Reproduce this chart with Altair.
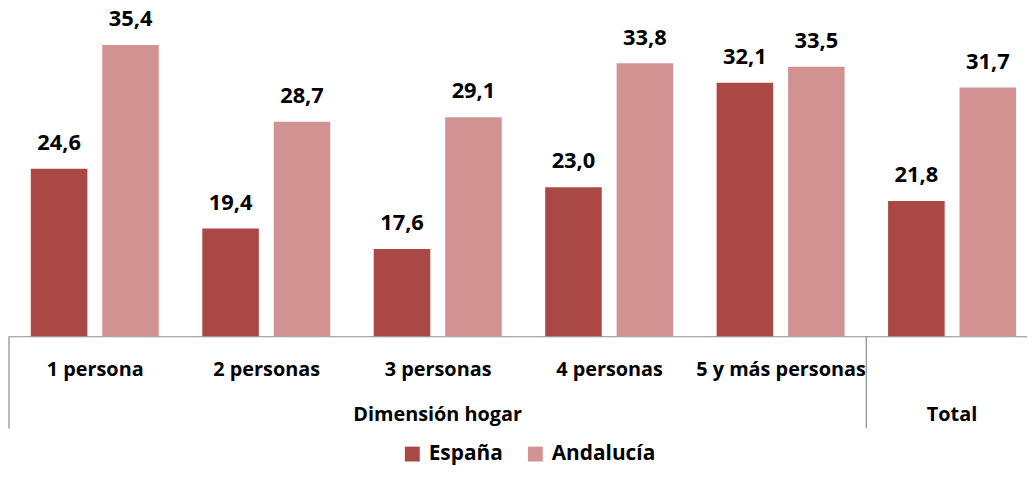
import altair as alt
import pandas as pd

categories = ["1 persona", "2 personas", "3 personas", "4 personas", "5 y más personas", "Total"]
espana = [24.6, 19.4, 17.6, 23.0, 32.1, 21.8]
andalucia = [35.4, 28.7, 29.1, 33.8, 33.5, 31.7]
series = ["España", "Andalucía"]
colors = ["#AA4846", "#D39292"]
group_labels = ["Dimensión hogar", "Total"]

# layout: each category occupies one unit; the plot shows 5.9375 units so the
# last group runs past the right edge, as in the reference
VISIBLE_UNITS = 5.9375
BAR_SPAN = {"España": (0.1273, 0.4572), "Andalucía": (0.5440, 0.8738)}

rows = []
for i, (c, e, a) in enumerate(zip(categories, espana, andalucia)):
    for s, v in (("España", e), ("Andalucía", a)):
        x0, x1 = BAR_SPAN[s]
        rows.append({"cat": c, "serie": s, "valor": v,
                     "x0": i + x0, "x1": i + x1, "xc": i + (x0 + x1) / 2})
df = pd.DataFrame(rows)
df["etiqueta"] = df["valor"].map(lambda v: f"{v:.1f}".replace(".", ","))

FONT = "Open Sans"
GRAY = "#8c8c8c"

xscale = alt.Scale(domain=[0, VISIBLE_UNITS], nice=False, zero=False)
yscale = alt.Scale(domain=[10, 38.3], zero=False, nice=False)

cat_js = "[" + ",".join("'" + c + "'" for c in categories) + "]"
x_axis = alt.Axis(title=None, labelAngle=0, ticks=False, domainColor=GRAY, domainWidth=1.2,
                  values=[i + 0.5 for i in range(len(categories) - 1)],
                  labelExpr=cat_js + "[floor(datum.value)]",
                  labelFont=FONT, labelFontSize=20, labelFontWeight="bold", labelColor="black",
                  labelPadding=34, labelBaseline="middle", labelOverlap=False, labelLimit=400,
                  labelFlush=False, grid=False)

base = alt.Chart(df)

bars = base.mark_bar().encode(
    x=alt.X("x0:Q", scale=xscale, axis=x_axis),
    x2="x1:Q",
    y=alt.Y("valor:Q", scale=yscale, axis=None),
    y2=alt.datum(10),
    color=alt.Color("serie:N", scale=alt.Scale(domain=series, range=colors), sort=series,
                    legend=alt.Legend(title=None, orient="none", legendX=396, legendY=435,
                                      direction="horizontal", symbolType="square", symbolSize=225,
                                      symbolStrokeWidth=0, labelFont=FONT, labelFontSize=21,
                                      labelFontWeight="bold", labelColor="black", labelOffset=6,
                                      columnPadding=22, padding=0)),
)

values = base.mark_text(dy=-26, font=FONT, fontSize=22, fontWeight="bold", color="black",
                        baseline="middle").encode(
    x=alt.X("xc:Q", scale=xscale, axis=x_axis),
    y=alt.Y("valor:Q", scale=yscale, axis=None),
    text="etiqueta:N",
)

sep_df = pd.DataFrame({"pos": [0, len(categories) - 1]})
seps = alt.Chart(sep_df).mark_rule(color=GRAY, strokeWidth=1.2).encode(
    x=alt.X("pos:Q", scale=xscale, axis=x_axis),
    y=alt.value(327),
    y2=alt.value(420),
)

grp_df = pd.DataFrame({"pos": [(len(categories) - 1) / 2, len(categories) - 0.5],
                       "label": group_labels})
groups = alt.Chart(grp_df).mark_text(font=FONT, fontSize=20, fontWeight="bold", color="black",
                                     baseline="middle").encode(
    x=alt.X("pos:Q", scale=xscale, axis=x_axis),
    y=alt.value(406),
    text="label:N",
)

chart = alt.layer(bars, values, seps, groups).properties(
    width=1026, height=327,
    autosize=alt.AutoSizeParams(type="none"),
    padding={"left": 1, "top": 2, "right": 0, "bottom": 131},
).configure_view(stroke=None)

chart.save("out.html", embed_options={"renderer": "svg", "actions": False})
